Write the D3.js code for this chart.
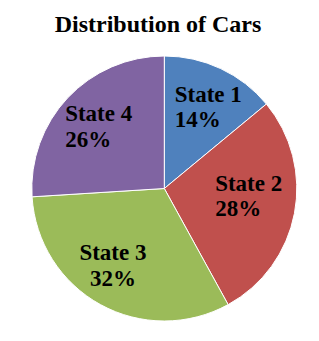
<!DOCTYPE html>
<html>
<head>
<meta charset="utf-8">
<script src="https://cdn.jsdelivr.net/npm/d3@7"></script>
<style>
  body { margin: 0; background: #fff; }
  svg text { font-family: "Liberation Serif", "Times New Roman", serif; font-weight: bold; }
</style>
</head>
<body>
<div id="chart"></div>
<script>
const states = ['State 1', 'State 2', 'State 3', 'State 4'];
const shares = [14, 28, 32, 26];
const colors = ['#4F81BD', '#C0504D', '#9BBB59', '#8064A2'];

// label nudges + alignment (layout only)
const nudge = [[5, 0], [-4, -9], [-8, -1.5], [0, 0]];
const align = ['start', 'start', 'middle', 'start'];

const width = 319, height = 341;
const cx = 164.3, cy = 188.5, r = 132.5;

const svg = d3.select('#chart')
  .append('svg')
  .attr('width', width)
  .attr('height', height);

svg.append('text')
  .attr('x', 158)
  .attr('y', 31.5)
  .attr('text-anchor', 'middle')
  .attr('font-size', '24px')
  .text('Distribution of Cars');

const data = states.map((s, i) => ({ name: s, value: shares[i], color: colors[i] }));

const pie = d3.pie()
  .value(d => d.value)
  .sort(null);

const arc = d3.arc()
  .innerRadius(0)
  .outerRadius(r);

const labelArc = d3.arc()
  .innerRadius(90)
  .outerRadius(90);

const g = svg.append('g')
  .attr('transform', `translate(${cx},${cy})`);

const arcs = pie(data);

g.selectAll('path')
  .data(arcs)
  .enter()
    .append('path')
      .attr('d', arc)
      .attr('fill', d => d.data.color)
      .attr('stroke', '#fff')
      .attr('stroke-width', 1)
      .attr('stroke-linejoin', 'round');

const labels = g.selectAll('text.lbl')
  .data(arcs)
  .enter()
    .append('text')
      .attr('class', 'lbl')
      .attr('font-size', '23px')
      .attr('fill', '#000');

labels.each(function(d, i) {
  const [x0, y0] = labelArc.centroid(d);
  const x = x0 + nudge[i][0];
  const y = y0 + nudge[i][1];
  const t = d3.select(this);
  const l1 = t.append('tspan').text(d.data.name);
  const l2 = t.append('tspan').text(d.data.value + '%');
  const w = l1.node().getComputedTextLength();
  if (align[i] === 'middle') {
    t.attr('text-anchor', 'middle');
    l1.attr('x', x).attr('y', y - 5.5);
    l2.attr('x', x).attr('y', y + 20);
  } else {
    l1.attr('x', x - w / 2).attr('y', y - 5.5);
    l2.attr('x', x - w / 2).attr('y', y + 20);
  }
});
</script>
</body>
</html>
